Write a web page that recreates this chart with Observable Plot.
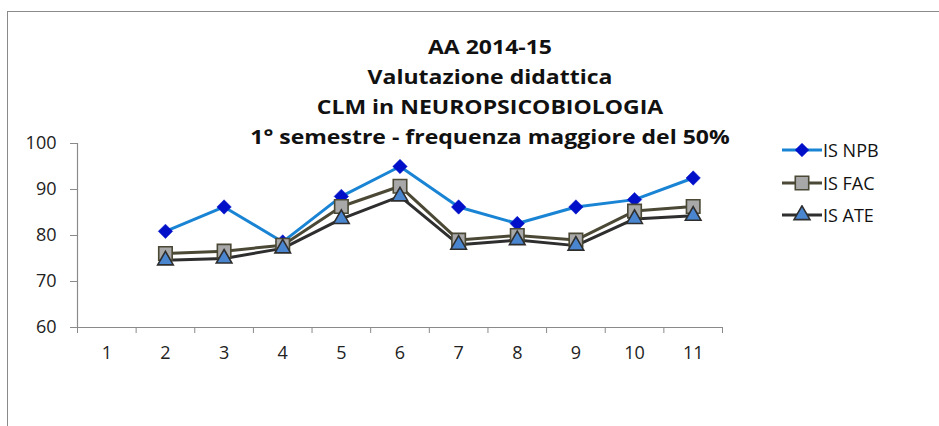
<!DOCTYPE html>
<html>
<head>
<meta charset="utf-8">
<script src="https://cdn.jsdelivr.net/npm/d3@7"></script>
<script src="https://cdn.jsdelivr.net/npm/@observablehq/plot@0.6"></script>
<style>
  html, body { margin: 0; padding: 0; background: #fff; }
  #wrap { position: relative; width: 939px; height: 426px; overflow: hidden; font-family: "Open Sans", sans-serif; }
  #frame { position: absolute; left: 7px; top: 11px; width: 1000px; height: 1000px; border: 1.5px solid #8a8a8a; box-sizing: border-box; }
  #chart { position: absolute; left: 0; top: 0; }
  #title { position: absolute; left: 190px; width: 600px; top: 32px; text-align: center; font-weight: bold; font-size: 19.5px; line-height: 30px; color: #111; transform: scaleX(1.18); transform-origin: 300px 0; }
  #legend { position: absolute; left: 782px; top: 134px; font-size: 18px; color: #111; }
  .row { display: flex; align-items: center; height: 32.5px; }
  .row svg { margin-right: 1px; }
</style>
</head>
<body>
<div id="wrap">
  <div id="frame"></div>
  <div id="chart"></div>
  <div id="title"></div>
  <div id="legend"></div>
</div>
<script>
const titleLines = ["AA 2014-15", "Valutazione didattica", "CLM in NEUROPSICOBIOLOGIA", "1° semestre - frequenza maggiore del 50%"];
const categories = [1, 2, 3, 4, 5, 6, 7, 8, 9, 10, 11];
const seriesNames = ["IS NPB", "IS FAC", "IS ATE"];
const npb = [null, 80.9, 86.2, 78.6, 88.5, 95.0, 86.2, 82.6, 86.2, 87.8, 92.5];
const fac = [null, 76.1, 76.6, 77.9, 86.3, 90.7, 79.0, 80.0, 79.0, 85.3, 86.3];
const ate = [null, 74.6, 75.0, 77.2, 83.6, 88.5, 78.0, 79.0, 77.8, 83.6, 84.3];
const yTicks = [60, 70, 80, 90, 100];

const styles = {
  "IS NPB": {line: "#1a84d4", fill: "#0010c8", stroke: "#0010c8", symbol: "diamond2", r: 6.5},
  "IS FAC": {line: "#4b4935", fill: "#a8a8a8", stroke: "#4b4935", symbol: "square", r: 7.6},
  "IS ATE": {line: "#2e2e2e", fill: "#4a86d0", stroke: "#2e2e2e", symbol: "triangle", r: 5.8}
};

const seriesValues = [npb, fac, ate];
const rows = [];
seriesNames.forEach((s, i) => {
  categories.forEach((c, j) => {
    const v = seriesValues[i][j];
    if (v != null) rows.push({cat: c, series: s, value: v});
  });
});

const halfTicks = d3.range(0.5, categories.length + 1, 1);

const lineMarks = seriesNames.map(s => Plot.line(rows.filter(d => d.series === s), {
  x: "cat", y: "value", stroke: styles[s].line, strokeWidth: 3, strokeLinejoin: "round"
}));
const dotMarks = seriesNames.map(s => Plot.dot(rows.filter(d => d.series === s), {
  x: "cat", y: "value", symbol: styles[s].symbol, r: styles[s].r,
  fill: styles[s].fill, stroke: styles[s].stroke, strokeWidth: s === "IS NPB" ? 0.5 : 1.6
}));

const chart = Plot.plot({
  width: 939,
  height: 426,
  marginLeft: 77,
  marginRight: 217,
  marginTop: 143,
  marginBottom: 99,
  style: {fontFamily: "Open Sans, sans-serif", fontSize: "18px", color: "#222", background: "transparent"},
  x: {type: "linear", domain: [0.5, categories.length + 0.5]},
  y: {domain: [60, 100]},
  marks: [
    Plot.axisY({ticks: yTicks, tickSize: 7, tickPadding: 14, stroke: "#8a8a8a", label: null}),
    Plot.axisX({ticks: halfTicks, tickSize: 6, tickFormat: () => "", stroke: "#8a8a8a", label: null}),
    Plot.axisX({ticks: categories, tickSize: 0, tickPadding: 19, tickFormat: d => String(d), label: null}),
    Plot.ruleY([60], {stroke: "#8a8a8a", strokeWidth: 1.2}),
    Plot.ruleX([0.5], {stroke: "#8a8a8a", strokeWidth: 1.2}),
    ...lineMarks,
    ...dotMarks
  ]
});
document.getElementById("chart").appendChild(chart);

const t = document.getElementById("title");
titleLines.forEach(l => { const d = document.createElement("div"); d.textContent = l; t.appendChild(d); });

const lg = document.getElementById("legend");
const symPath = {
  "IS NPB": d3.symbol(d3.symbolDiamond2, 120)(),
  "IS FAC": d3.symbol(d3.symbolSquare, 180)(),
  "IS ATE": d3.symbol(d3.symbolTriangle, 110)()
};
seriesNames.forEach(s => {
  const row = document.createElement("div");
  row.className = "row";
  const st = styles[s];
  row.innerHTML = `<svg width="40" height="20" viewBox="0 0 40 20"><line x1="0" x2="40" y1="10" y2="10" stroke="${st.line}" stroke-width="3"/><path transform="translate(20,10)" d="${symPath[s]}" fill="${st.fill}" stroke="${st.stroke}" stroke-width="${s === "IS NPB" ? 0.5 : 1.6}"/></svg><span>${s}</span>`;
  lg.appendChild(row);
});
</script>
</body>
</html>
